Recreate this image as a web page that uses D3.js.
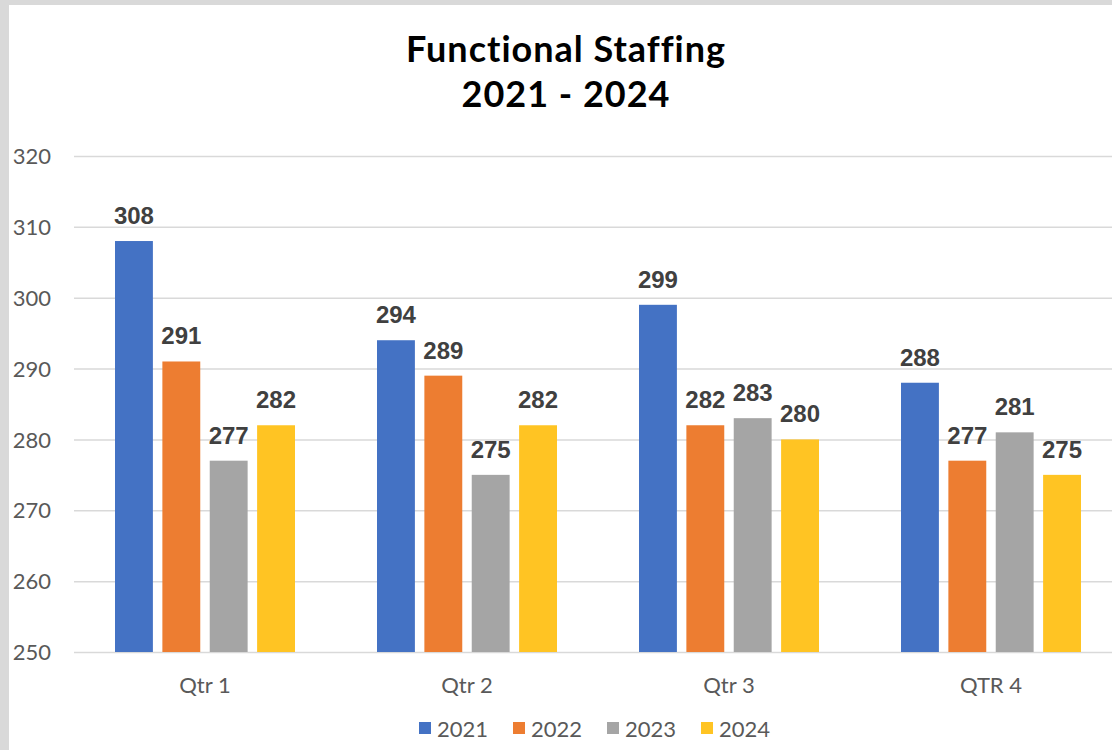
<!DOCTYPE html>
<html>
<head>
<meta charset="utf-8">
<script src="https://cdn.jsdelivr.net/npm/d3@7"></script>
<style>
  body { margin: 0; background: #d9d9d9; }
  svg { display: block; }
</style>
</head>
<body>
<svg id="chart" width="1112" height="750"></svg>
<script>
var quarters = ["Qtr 1", "Qtr 2", "Qtr 3", "QTR 4"];
var years = ["2021", "2022", "2023", "2024"];
var staff2021 = [308, 294, 299, 288];
var staff2022 = [291, 289, 282, 277];
var staff2023 = [277, 275, 283, 281];
var staff2024 = [282, 282, 280, 275];
var yTicks = [250, 260, 270, 280, 290, 300, 310, 320];
var colors = ["#4472c4", "#ed7d31", "#a5a5a5", "#ffc423"];

var series = [staff2021, staff2022, staff2023, staff2024];

var svg = d3.select("#chart");

// white chart panel (gray frame shows at top/left)
svg.append("rect")
    .attr("x", 9).attr("y", 5)
    .attr("width", 1112).attr("height", 750)
    .attr("fill", "#fff");

var plotLeft = 74, plotRight = 1122, plotTop = 156, plotBottom = 652;

var x = d3.scaleBand().domain(quarters).range([plotLeft, plotRight])
    .paddingInner(0.313).paddingOuter(0.1565);
var xs = d3.scaleBand().domain(years).range([0, x.bandwidth()])
    .paddingInner(0.2).paddingOuter(0);
var y = d3.scaleLinear().domain([250, 320]).range([plotBottom, plotTop]);

// title
var title = svg.append("text")
    .attr("text-anchor", "middle")
    .style("font-family", "'Century Gothic', Lato, sans-serif")
    .style("font-weight", "bold")
    .style("font-size", "36px")
    .style("letter-spacing", "1px")
    .attr("fill", "#000");
title.append("tspan").attr("x", 566).attr("y", 62).text("Functional Staffing");
title.append("tspan").attr("x", 566).attr("y", 107).text("2021 - 2024");

// gridlines + y labels
var yAxis = svg.append("g")
    .attr("transform", "translate(" + plotLeft + ",0)")
    .call(d3.axisLeft(y).tickValues(yTicks).tickSize(-(plotRight - plotLeft)).tickPadding(23));
yAxis.select(".domain").remove();
yAxis.selectAll(".tick line").attr("stroke", "#d9d9d9").attr("stroke-width", 1.5);
yAxis.selectAll(".tick text")
    .attr("fill", "#595959")
    .style("font-family", "'Century Gothic', Lato, sans-serif")
    .style("font-size", "22px")
    .attr("dy", "0.35em");

// x labels
var xAxis = svg.append("g")
    .attr("transform", "translate(0," + plotBottom + ")")
    .call(d3.axisBottom(x).tickSize(0).tickPadding(0));
xAxis.select(".domain").remove();
xAxis.selectAll(".tick text")
    .attr("fill", "#595959")
    .attr("y", 41).attr("dy", 0)
    .style("font-family", "'Century Gothic', Lato, sans-serif")
    .style("font-size", "22px");

// bars
var rows = [];
quarters.forEach(function(q, i) {
  years.forEach(function(yr, j) {
    rows.push({q: q, yr: yr, v: series[j][i], c: colors[j]});
  });
});

svg.append("g").selectAll("rect").data(rows).enter().append("rect")
    .attr("x", function(d) { return x(d.q) + xs(d.yr); })
    .attr("y", function(d) { return y(d.v); })
    .attr("width", xs.bandwidth())
    .attr("height", function(d) { return y(250) - y(d.v); })
    .attr("fill", function(d) { return d.c; });

svg.append("g").selectAll("text").data(rows).enter().append("text")
    .attr("x", function(d) { return x(d.q) + xs(d.yr) + xs.bandwidth() / 2; })
    .attr("y", function(d) { return y(d.v) - 17; })
    .attr("text-anchor", "middle")
    .attr("fill", "#404040")
    .style("font-family", "'Liberation Sans', Arial, sans-serif")
    .style("font-weight", "bold")
    .style("font-size", "24px")
    .text(function(d) { return d.v; });

// legend
var legend = svg.append("g").selectAll("g").data(years).enter().append("g")
    .attr("transform", function(d, i) { return "translate(" + (419 + i * 94) + ",722)"; });
legend.append("rect")
    .attr("width", 12).attr("height", 12)
    .attr("fill", function(d, i) { return colors[i]; });
legend.append("text")
    .attr("x", 18).attr("y", 15)
    .attr("fill", "#595959")
    .style("font-family", "'Century Gothic', Lato, sans-serif")
    .style("font-size", "22px")
    .text(function(d) { return d; });
</script>
</body>
</html>
